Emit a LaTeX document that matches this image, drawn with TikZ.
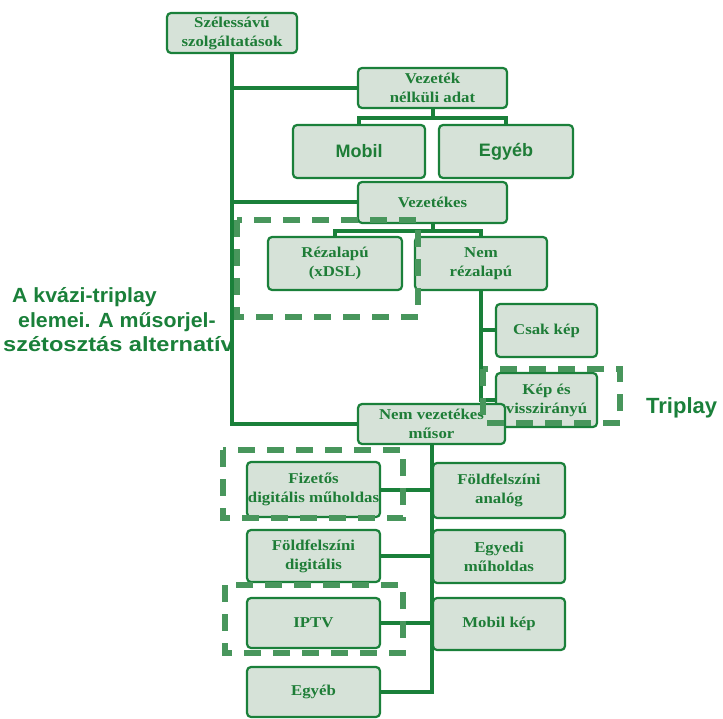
\documentclass[tikz,border=0pt]{standalone}
\usepackage{fontspec}
\newfontfamily\boxserif[FakeStretch=1.12]{Liberation Serif}
\newfontfamily\boxsans{Liberation Sans}
\newfontfamily\widesans[FakeStretch=1.15]{Liberation Sans}
\newfontfamily\midsans[FakeStretch=1.04]{Liberation Sans}
\definecolor{linegreen}{RGB}{26,128,58}
\definecolor{boxfill}{RGB}{214,226,216}
\definecolor{dashgreen}{RGB}{72,150,92}
\definecolor{textgreen}{RGB}{30,125,55}
\pgfdeclarelayer{bg}
\pgfsetlayers{bg,main}
\tikzset{
  box/.style={draw=linegreen, line width=2.2pt, rounded corners=4pt, fill=boxfill,
    inner sep=0pt, text=textgreen, align=center,
    font=\boxserif\bfseries\fontsize{15}{19}\selectfont},
  sansbox/.style={box, font=\boxsans\bfseries\fontsize{18}{22}\selectfont},
  conn/.style={draw=linegreen, line width=4pt},
  dashbox/.style={draw=dashgreen, line width=6pt, dash pattern=on 17pt off 12pt},
  lbl/.style={text=linegreen, inner sep=0pt, font=\widesans\bfseries\fontsize{20.5}{24}\selectfont},
  lblnarrow/.style={lbl, font=\midsans\bfseries\fontsize{20.5}{24}\selectfont},
}
\begin{document}
\begin{tikzpicture}[x=1pt,y=-1pt]
\begin{pgfonlayer}{bg}
\useasboundingbox[fill=white] (0,0) rectangle (723,719);
\end{pgfonlayer}

% boxes
\node[box, minimum width=130pt, minimum height=40pt] (top) at (232,33) {Szélessávú\\szolgáltatások};
\node[box, minimum width=149pt, minimum height=40pt] (vn) at (432.5,88) {Vezeték\\nélküli adat};
\node[sansbox, minimum width=132pt, minimum height=53pt] (mobil) at (359,151.5) {Mobil};
\node[sansbox, minimum width=134pt, minimum height=53pt] (egyeb1) at (506,151.5) {Egyéb};
\node[box, minimum width=149pt, minimum height=41pt] (vez) at (432.5,202.5) {Vezetékes};
\node[box, minimum width=134pt, minimum height=53pt] (rez) at (335,263.5) {Rézalapú\\(xDSL)};
\node[box, minimum width=132pt, minimum height=53pt] (nemrez) at (481,263.5) {Nem\\rézalapú};
\node[box, minimum width=101pt, minimum height=53pt] (csak) at (546.5,330.5) {Csak kép};
\node[box, minimum width=101pt, minimum height=54pt] (kep) at (546.5,400) {Kép és\\visszirányú};
\node[box, minimum width=147pt, minimum height=40pt] (nvm) at (431.5,424) {Nem vezetékes\\műsor};
\node[box, minimum width=133pt, minimum height=55pt] (fiz) at (313.5,489.5) {Fizetős\\digitális műholdas};
\node[box, minimum width=132pt, minimum height=55pt] (fa) at (499,490.5) {Földfelszíni\\analóg};
\node[box, minimum width=133pt, minimum height=52pt] (fd) at (313.5,556) {Földfelszíni\\digitális};
\node[box, minimum width=132pt, minimum height=53pt] (em) at (499,556.5) {Egyedi\\műholdas};
\node[box, minimum width=133pt, minimum height=50pt] (iptv) at (313.5,623) {IPTV};
\node[box, minimum width=132pt, minimum height=52pt] (mk) at (499,624) {Mobil kép};
\node[box, minimum width=133pt, minimum height=50pt] (egy2) at (313.5,692) {Egyéb};

% connectors behind the boxes
\begin{pgfonlayer}{bg}
\draw[conn] (top.south) |- (nvm.west);
\draw[conn] (top.south |- vn.west) -- (vn.west);
\draw[conn] (top.south |- vez.west) -- (vez.west);
\draw[conn] (vn.south) -- (vn.south |- 0,119);
\draw[conn] (mobil.north) -- ++(0,-6) -| (egyeb1.north);
\draw[conn] (vez.south) -- (vez.south |- 0,232);
\draw[conn] (rez.north) -- ++(0,-5) -| (nemrez.north);
\draw[conn] (nemrez.south) |- (kep.west);
\draw[conn] (nemrez.south |- csak.west) -- (csak.west);
\draw[conn] (nvm.south) |- (egy2.east);
\draw[conn] (fiz.east) -- (fiz.east -| nvm.south);
\draw[conn] (fd.east) -- (fd.east -| nvm.south);
\draw[conn] (iptv.east) -- (iptv.east -| nvm.south);
\end{pgfonlayer}

% dashed groups
\draw[dashbox] (237,220) rectangle (418,317);
\draw[dashbox] (483,369) rectangle (620,423);
\draw[dashbox] (223,450) rectangle (403,518);
\draw[dashbox] (225,585) rectangle (403,653);

% labels
\node[lblnarrow, anchor=base west] (l1) at (12,303) {A kvázi-triplay};
\node[lblnarrow, anchor=base west] (l2) at (18,328) {elemei. A műsorjel-};
\node[lbl, anchor=base west] (l3) at (3,352) {szétosztás alternatív};
\node[lbl, anchor=base west, font=\boxsans\bfseries\fontsize{22}{24}\selectfont] (tp) at (646,413) {Triplay};
\end{tikzpicture}
\end{document}
